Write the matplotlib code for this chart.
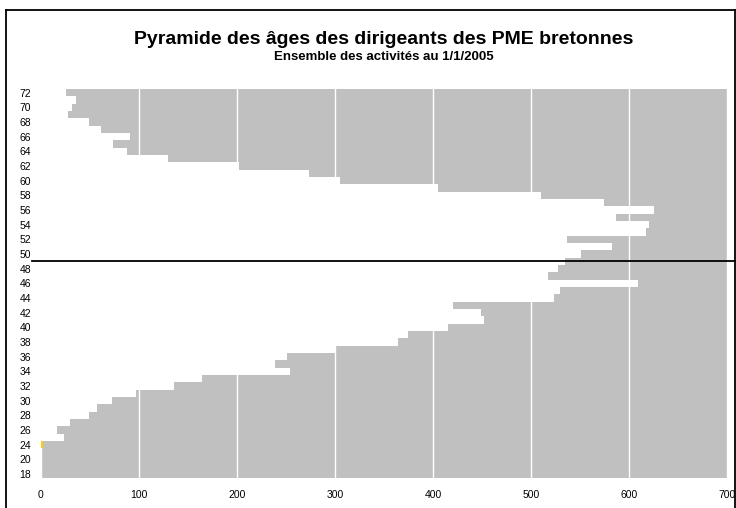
import matplotlib
matplotlib.use("Agg")
import matplotlib.pyplot as plt
from matplotlib.lines import Line2D
import matplotlib.transforms as mtransforms

plt.rcParams['font.family'] = ['Liberation Sans', 'DejaVu Sans']

# Data (age categories from bottom to top)
ages = [18, 19, 20, 22, 24, 25, 26, 27, 28, 29, 30, 31, 32, 33, 34, 35, 36, 37,
        38, 39, 40, 41, 42, 43, 44, 45, 46, 47, 48, 49, 50, 51, 52, 53, 54, 55,
        56, 57, 58, 59, 60, 61, 62, 63, 64, 65, 66, 67, 68, 69, 70, 71, 72]
counts = [0, 0, 0, 0, 0, 23, 16, 30, 49, 57, 72, 97, 136, 164, 254, 239, 251, 300,
          364, 374, 415, 452, 449, 420, 523, 530, 609, 517, 528, 535, 551, 583, 537, 617, 620, 587,
          626, 574, 510, 405, 305, 273, 202, 130, 88, 73, 91, 61, 49, 28, 32, 36, 25]
highlight = [0, 0, 0, 0, 2.5] + [0] * 48
tick_labels = [str(a) for a in ages]
mean_age_row = 49
x_ticks = [0, 100, 200, 300, 400, 500, 600, 700]

fig = plt.figure(figsize=(7.36, 5.08), dpi=100)
W, H = 736, 508
ax = fig.add_axes([41 / W, 1 - 477.7 / H, (727 - 41) / W, (477.7 - 89) / H])
ax.set_facecolor('#C0C0C0')

pos = list(range(len(ages)))
ax.barh(pos, counts, height=1.0, color='white', edgecolor='none', zorder=2)
ax.barh(pos, highlight, height=1.0, color='#FFCC00', edgecolor='none', zorder=3)

ax.set_xlim(0, 700)
ax.set_ylim(-0.5, len(ages) - 0.5)
ax.set_xticks(x_ticks)
ax.set_xticklabels([str(v) for v in x_ticks])
ax.set_yticks(pos[::2])
ax.set_yticklabels(tick_labels[::2])
ax.tick_params(axis='both', length=0, labelsize=7.5, colors='black')
ax.tick_params(axis='y', pad=7)
ax.tick_params(axis='x', pad=9)
ax.grid(axis='x', color='white', linewidth=1.0)
ax.set_axisbelow(True)
for s in ax.spines.values():
    s.set_visible(False)

# mean age line
trans = mtransforms.blended_transform_factory(ax.transAxes, ax.transData)
ax.add_line(Line2D([-0.0131, 1.03], [ages.index(mean_age_row)] * 2, transform=trans,
                   color='black', linewidth=1.3, clip_on=False, zorder=5))

# titles
fig.text(384 / W, 1 - 39 / H, "Pyramide des âges des dirigeants des PME bretonnes",
         ha='center', va='center', fontsize=14, fontweight='bold')
fig.text(384 / W, 1 - 56.5 / H, "Ensemble des activités au 1/1/2005",
         ha='center', va='center', fontsize=9.5, fontweight='bold')

# figure frame
fig.add_artist(Line2D([6.5 / W, 6.5 / W], [1 - 10 / H, -0.01], transform=fig.transFigure,
                      color='black', linewidth=1.3))
fig.add_artist(Line2D([6.5 / W, 735 / W], [1 - 10 / H, 1 - 10 / H], transform=fig.transFigure,
                      color='black', linewidth=1.3))
fig.add_artist(Line2D([735 / W, 735 / W], [1 - 10 / H, -0.01], transform=fig.transFigure,
                      color='black', linewidth=1.3))

fig.savefig('out.png', dpi=100)
